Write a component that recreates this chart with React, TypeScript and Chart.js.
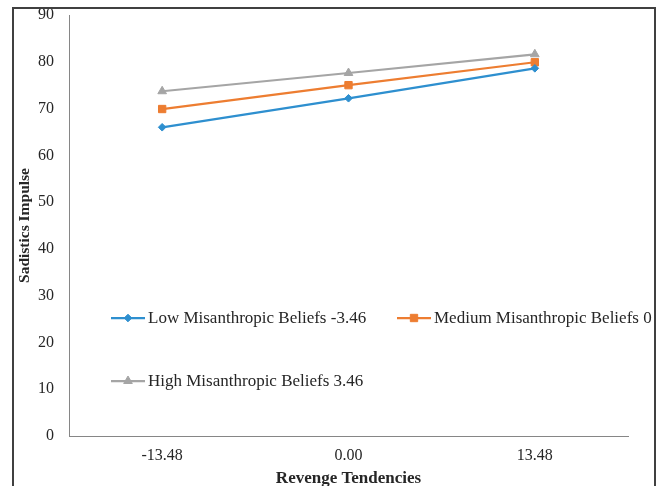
import React, { useEffect, useRef } from "react";
import { Chart, registerables } from "chart.js";
import { drawPoint } from "chart.js/helpers";

Chart.register(...registerables);

const categories = ["-13.48", "0.00", "13.48"];
const lowValues = [66.0, 72.2, 78.6];
const mediumValues = [69.9, 75.0, 79.9];
const highValues = [73.7, 77.6, 81.6];
const seriesNames = [
  "Low Misanthropic Beliefs -3.46",
  "Medium Misanthropic Beliefs 0",
  "High Misanthropic Beliefs 3.46",
];
const yMin = 0;
const yMax = 90;
const yStep = 10;

const FONT = "'Liberation Serif', 'Times New Roman', serif";
const TEXT = "#262626";

const legendPlugin = {
  id: "insideLegend",
  afterDraw(chart: any) {
    const ctx = chart.ctx;
    const positions = [
      [111, 318, 34],
      [397, 318, 34],
      [111, 381, 34],
    ];
    chart.data.datasets.forEach((ds: any, i: number) => {
      const [x, y, len] = positions[i];
      ctx.save();
      ctx.strokeStyle = ds.borderColor;
      ctx.lineWidth = ds.borderWidth;
      ctx.beginPath();
      ctx.moveTo(x, y);
      ctx.lineTo(x + len, y);
      ctx.stroke();
      ctx.fillStyle = ds.pointBackgroundColor;
      ctx.strokeStyle = ds.pointBorderColor;
      ctx.lineWidth = 1;
      drawPoint(ctx, { pointStyle: ds.pointStyle, radius: ds.pointRadius, rotation: 0, borderWidth: 1 }, x + len / 2, y);
      ctx.fillStyle = TEXT;
      ctx.font = `17px ${FONT}`;
      ctx.textBaseline = "middle";
      ctx.textAlign = "left";
      ctx.fillText(ds.label, x + len + 3, y + 1);
      ctx.restore();
    });
  },
};

export default function App() {
  const ref = useRef<HTMLCanvasElement | null>(null);

  useEffect(() => {
    if (!ref.current) return;
    const mk = (label: string, data: number[], color: string, style: string, r: number) => ({
      label,
      data,
      borderColor: color,
      backgroundColor: color,
      pointBackgroundColor: color,
      pointBorderColor: color,
      borderWidth: 2.25,
      pointStyle: style,
      pointRadius: r,
      pointBorderWidth: 1,
      tension: 0,
    });
    const chart = new Chart(ref.current, {
      type: "line",
      data: {
        labels: categories,
        datasets: [
          mk(seriesNames[0], lowValues, "#2E8FCF", "rectRot", 3.8),
          mk(seriesNames[1], mediumValues, "#ED7D31", "rect", 5.2),
          mk(seriesNames[2], highValues, "#A5A5A5", "triangle", 5),
        ],
      },
      options: {
        responsive: false,
        animation: false,
        layout: { padding: { left: 0, top: 15, right: 29, bottom: 0 } },
        plugins: {
          legend: { display: false },
          tooltip: { enabled: false },
        },
        scales: {
          x: {
            type: "category",
            offset: true,
            grid: { display: false, drawTicks: false },
            border: { display: true, color: "#868686", width: 1 },
            ticks: { color: TEXT, font: { family: FONT, size: 16 }, padding: 10 },
            title: {
              display: true,
              text: "Revenge Tendencies",
              color: TEXT,
              font: { family: FONT, size: 17, weight: "bold" },
              padding: { top: 0, bottom: -3 },
            },
            afterFit: (s: any) => {
              s.height = 50;
            },
          },
          y: {
            min: yMin,
            max: yMax,
            grid: { display: false, drawTicks: false },
            border: { display: true, color: "#868686", width: 1 },
            ticks: { stepSize: yStep, color: TEXT, font: { family: FONT, size: 16 }, padding: 15 },
            title: {
              display: true,
              text: "Sadistics Impulse",
              color: TEXT,
              font: { family: FONT, size: 15.5, weight: "bold" },
              padding: { top: 16, bottom: 0 },
            },
            afterFit: (s: any) => {
              s.width = 69;
              s.paddingTop = 0;
              s.paddingBottom = 0;
            },
          },
        },
      },
      plugins: [legendPlugin],
    } as any);
    return () => chart.destroy();
  }, []);

  return (
    <div
      style={{
        position: "fixed",
        left: 0,
        top: 0,
        width: 657,
        height: 486,
        overflow: "hidden",
        background: "#fff",
      }}
    >
      <canvas ref={ref} width={657} height={486} style={{ position: "absolute", left: 0, top: 0 }} />
      <div
        style={{
          position: "absolute",
          left: 12,
          top: 7,
          width: 640,
          height: 520,
          border: "2px solid #404040",
          pointerEvents: "none",
        }}
      />
    </div>
  );
}
